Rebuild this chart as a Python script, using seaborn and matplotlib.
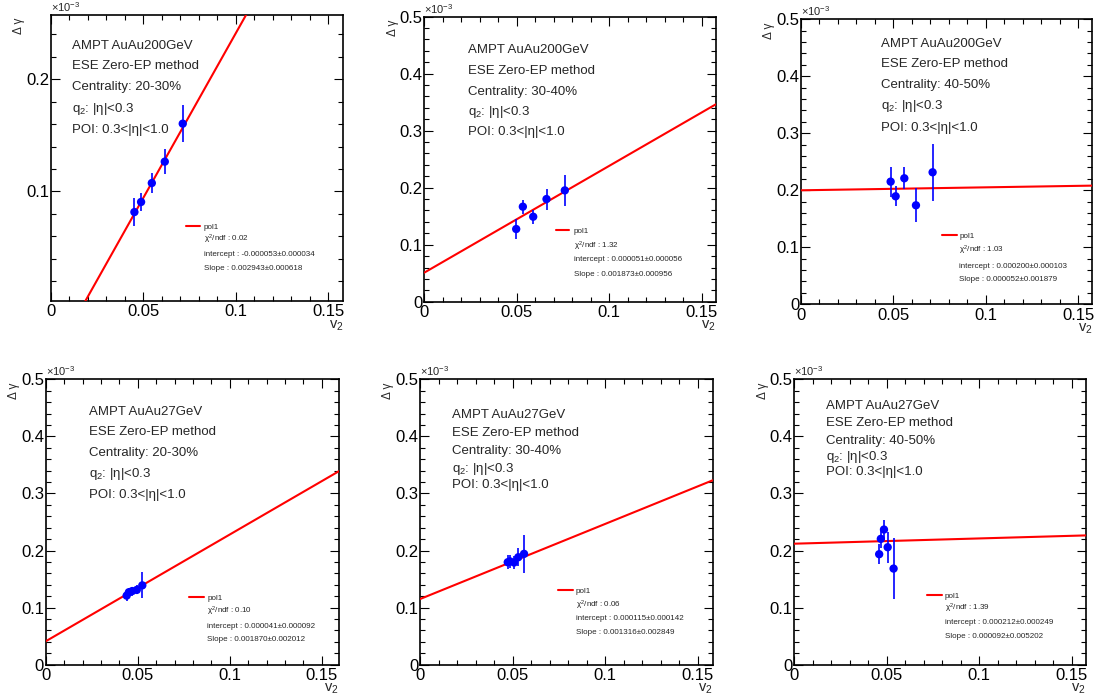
import numpy as np
import pandas as pd
import matplotlib
matplotlib.use("Agg")
import matplotlib.pyplot as plt
from matplotlib.ticker import MultipleLocator, FuncFormatter
import seaborn as sns

# ---------------- data ----------------
titles = ["AMPT AuAu200GeV", "AMPT AuAu200GeV", "AMPT AuAu200GeV",
          "AMPT AuAu27GeV", "AMPT AuAu27GeV", "AMPT AuAu27GeV"]
centralities = ["20-30%", "30-40%", "40-50%", "20-30%", "30-40%", "40-50%"]

v2_p1 = [0.0452, 0.0488, 0.0546, 0.0616, 0.0713]
dg_p1 = [0.0815, 0.0905, 0.1074, 0.1265, 0.1604]
er_p1 = [0.0122, 0.0083, 0.0086, 0.0113, 0.0168]

v2_p2 = [0.0497, 0.0533, 0.0589, 0.0661, 0.0760]
dg_p2 = [0.1275, 0.1667, 0.1491, 0.1801, 0.1953]
er_p2 = [0.0180, 0.0123, 0.0126, 0.0184, 0.0278]

v2_p3 = [0.0485, 0.0512, 0.0559, 0.0622, 0.0712]
dg_p3 = [0.2152, 0.1895, 0.2211, 0.1737, 0.2316]
er_p3 = [0.0263, 0.0175, 0.0193, 0.0298, 0.0500]

v2_p4 = [0.0440, 0.0452, 0.0470, 0.0495, 0.0525]
dg_p4 = [0.1210, 0.1270, 0.1290, 0.1310, 0.1390]
er_p4 = [0.0100, 0.0080, 0.0080, 0.0080, 0.0230]

v2_p5 = [0.0474, 0.0486, 0.0508, 0.0531, 0.0562]
dg_p5 = [0.1795, 0.1810, 0.1790, 0.1883, 0.1942]
er_p5 = [0.0120, 0.0120, 0.0120, 0.0160, 0.0330]

v2_p6 = [0.0459, 0.0468, 0.0485, 0.0505, 0.0537]
dg_p6 = [0.1936, 0.2205, 0.2368, 0.2058, 0.1684]
er_p6 = [0.0180, 0.0160, 0.0175, 0.0270, 0.0535]

# fit results (pol1) as printed in the stats
chi2_ndf = ["0.02", "1.32", "1.03", "0.10", "0.06", "1.39"]
intercept = [-0.000053, 0.000051, 0.000200, 0.000041, 0.000115, 0.000212]
intercept_err = [0.000034, 0.000056, 0.000103, 0.000092, 0.000142, 0.000249]
slope = [0.002943, 0.001873, 0.000052, 0.001870, 0.001316, 0.000092]
slope_err = [0.000618, 0.000956, 0.001879, 0.002012, 0.002849, 0.005202]

v2_all = [v2_p1, v2_p2, v2_p3, v2_p4, v2_p5, v2_p6]
dg_all = [dg_p1, dg_p2, dg_p3, dg_p4, dg_p5, dg_p6]
er_all = [er_p1, er_p2, er_p3, er_p4, er_p5, er_p6]

# ---------------- layout (pixels) ----------------
W, H = 1098, 697
# left, top, right, bottom of each frame
frames = [(50.7, 15.0, 343.3, 301.0), (424.3, 16.7, 715.7, 301.7), (801.0, 19.3, 1092.3, 304.3),
          (45.7, 379.3, 339.0, 664.7), (420.0, 379.3, 712.7, 664.7), (794.3, 379.3, 1085.7, 664.7)]
ylims = [(0.0021, 0.2574), (0, 0.5), (0, 0.5), (0, 0.5), (0, 0.5), (0, 0.5)]
xmaxs = [0.158, 0.1576, 0.1576, 0.1594, 0.1581, 0.1576]
text_x = [71.7, 468.0, 881.0, 89.3, 452.3, 826.0]
text_y = [[44.7, 64.0, 85.8, 107.0, 128.0], [48.3, 69.0, 90.0, 110.7, 130.7],
          [42.7, 62.3, 83.3, 104.7, 126.0], [410.0, 430.7, 451.7, 472.3, 493.3],
          [413.3, 431.7, 449.3, 467.3, 483.3], [404.3, 421.7, 439.0, 455.0, 470.7]]
stat_line_x = [(186.0, 200.0), (555.7, 569.3), (941.7, 956.7), (189.3, 204.0), (558.3, 572.7), (926.7, 941.7)]
stat_x = [204.0, 574.0, 959.3, 207.3, 576.0, 945.0]
stat_y = [[226.0, 239.0, 253.3, 267.3], [230.0, 245.7, 258.3, 272.7], [235.0, 249.3, 265.0, 278.3],
          [597.3, 610.7, 625.0, 638.3], [590.0, 604.3, 617.3, 631.0], [595.0, 607.3, 620.7, 635.0]]

sns.set_style("ticks")
plt.rcParams["font.family"] = ["Liberation Sans", "DejaVu Sans"]
plt.rcParams["mathtext.fontset"] = "custom"
plt.rcParams["mathtext.rm"] = "Liberation Sans"
plt.rcParams["mathtext.it"] = "Liberation Sans"
plt.rcParams["mathtext.sf"] = "Liberation Sans"

fig = plt.figure(figsize=(W / 100, H / 100), dpi=100)
fig.patch.set_facecolor("white")

def fx(x):
    return x / W

def fy(y):
    return 1 - y / H

fmt = FuncFormatter(lambda v, p: ("%g" % round(v, 6)))

for i in range(6):
    l, t, r, b = frames[i]
    ax = fig.add_axes([fx(l), fy(b), (r - l) / W, (b - t) / H])
    ax.set_facecolor("white")
    df = pd.DataFrame({"v2": v2_all[i], "dg": dg_all[i], "err": er_all[i]})

    # fit line from printed parameters (in units of 1e-3)
    xs = np.array([0.0, xmaxs[i]])
    fit = pd.DataFrame({"v2": xs, "dg": (intercept[i] + slope[i] * xs) * 1e3})
    sns.lineplot(data=fit, x="v2", y="dg", ax=ax, color="#ff0000", lw=1.5, zorder=3)

    ax.errorbar(df["v2"], df["dg"], yerr=df["err"], fmt="none", ecolor="#0000ff",
                elinewidth=1.2, capsize=0, zorder=4)
    sns.scatterplot(data=df, x="v2", y="dg", ax=ax, color="#0000ff", s=36,
                    edgecolor="none", linewidth=0, zorder=5)

    ax.set_xlim(0, xmaxs[i])
    ax.set_ylim(*ylims[i])
    ax.xaxis.set_major_locator(MultipleLocator(0.05))
    ax.xaxis.set_minor_locator(MultipleLocator(0.01))
    ax.yaxis.set_major_locator(MultipleLocator(0.1))
    ax.yaxis.set_minor_locator(MultipleLocator(0.02))
    ax.xaxis.set_major_formatter(fmt)
    ax.yaxis.set_major_formatter(fmt)
    ax.tick_params(which="both", direction="in", top=True, right=True, colors="black",
                   labelsize=12, width=0.8)
    ax.tick_params(which="major", length=6.5)
    ax.tick_params(which="minor", length=3.3)
    ax.tick_params(axis="y", pad=1.2)
    ax.tick_params(axis="x", pad=2.5)
    for s in ax.spines.values():
        s.set_visible(True)
        s.set_linewidth(1.2)
        s.set_color("black")

    ax.set_xlabel(r"v$_2$", fontsize=10.5, loc="right")
    ax.xaxis.set_label_coords(1.0, -0.06)
    ax.set_ylabel("Δ γ", fontsize=8.5, loc="top")
    ax.yaxis.set_label_coords(-0.088, 0.99)

    ax.text(0.0, 1.003, r"×10$^{-3}$", transform=ax.transAxes, fontsize=8,
            ha="left", va="bottom")

    lines = [titles[i], "ESE Zero-EP method", "Centrality: " + centralities[i],
             r"q$_{2}$: |η|<0.3", "POI: 0.3<|η|<1.0"]
    for k, s in enumerate(lines):
        fig.text(fx(text_x[i]), fy(text_y[i][k] + 4.6), s, fontsize=9.5,
                 ha="left", va="baseline")

    x0, x1 = stat_line_x[i]
    ly = fy(stat_y[i][0])
    fig.add_artist(plt.Line2D([fx(x0), fx(x1)], [ly, ly], color="#ff0000", lw=1.5,
                              transform=fig.transFigure))
    stats = ["pol1", r"$\chi^{2}$/ndf : " + chi2_ndf[i],
             "intercept : %.6f±%.6f" % (intercept[i], intercept_err[i]),
             "Slope : %.6f±%.6f" % (slope[i], slope_err[i])]
    for k, s in enumerate(stats):
        fig.text(fx(stat_x[i]), fy(stat_y[i][k] + 2.8), s, fontsize=5.8,
                 ha="left", va="baseline")

fig.savefig("out.png", dpi=100, facecolor="white")
